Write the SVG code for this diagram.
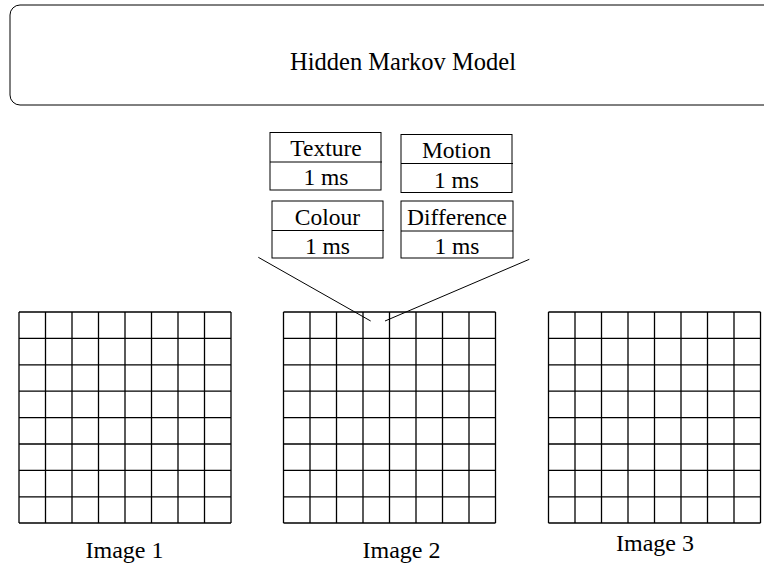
<svg xmlns="http://www.w3.org/2000/svg" width="764" height="564" viewBox="0 0 764 564">
<defs>
<style>
text{font-family:"Liberation Serif","Times New Roman",serif;fill:#000;text-anchor:middle}
.t{font-size:24.5px}
.s{font-size:23.5px}
.l{font-size:24px}
.box{fill:#fff;stroke:#000;stroke-width:1}
.conn line{stroke:#000;stroke-width:1}
</style>
<g id="gridpat" stroke="#000" stroke-width="1.3" fill="none">
<line x1="0" y1="0" x2="212" y2="0"/><line x1="0" y1="26.4" x2="212" y2="26.4"/><line x1="0" y1="52.8" x2="212" y2="52.8"/><line x1="0" y1="79.2" x2="212" y2="79.2"/><line x1="0" y1="105.6" x2="212" y2="105.6"/><line x1="0" y1="132" x2="212" y2="132"/><line x1="0" y1="158.4" x2="212" y2="158.4"/><line x1="0" y1="184.8" x2="212" y2="184.8"/><line x1="0" y1="211" x2="212" y2="211"/>
<line x1="0" y1="0" x2="0" y2="211"/><line x1="26.5" y1="0" x2="26.5" y2="211"/><line x1="53" y1="0" x2="53" y2="211"/><line x1="79.5" y1="0" x2="79.5" y2="211"/><line x1="106" y1="0" x2="106" y2="211"/><line x1="132.5" y1="0" x2="132.5" y2="211"/><line x1="159" y1="0" x2="159" y2="211"/><line x1="185.5" y1="0" x2="185.5" y2="211"/><line x1="212" y1="0" x2="212" y2="211"/>
</g>
</defs>
<rect width="764" height="564" fill="#fff"/>
<g id="hmm">
<rect class="box" x="10" y="5" width="800" height="100" rx="10" ry="10"/>
<text class="t" x="403" y="69.5">Hidden Markov Model</text>
</g>
<g id="texture">
<rect class="box" x="270" y="132.5" width="111" height="57.5"/>
<line x1="270" y1="162" x2="382" y2="162" stroke="#000"/>
<text class="s" x="326" y="156">Texture</text>
<text class="s" x="326" y="185">1 ms</text>
</g>
<g id="motion">
<rect class="box" x="401" y="134.5" width="111" height="58"/>
<line x1="401" y1="163.5" x2="513" y2="163.5" stroke="#000"/>
<text class="s" x="456.5" y="157.5">Motion</text>
<text class="s" x="456.5" y="187.5">1 ms</text>
</g>
<g id="colour">
<rect class="box" x="272" y="201" width="111" height="57"/>
<line x1="272" y1="230.5" x2="384" y2="230.5" stroke="#000"/>
<text class="s" x="327.5" y="224.5">Colour</text>
<text class="s" x="327.5" y="253.5">1 ms</text>
</g>
<g id="difference">
<rect class="box" x="401" y="201" width="112" height="57"/>
<line x1="401" y1="231" x2="513" y2="231" stroke="#000"/>
<text class="s" x="457" y="224.5">Difference</text>
<text class="s" x="457" y="253.5">1 ms</text>
</g>
<g id="image1">
<use href="#gridpat" x="19" y="312"/>
<text class="l" x="124.5" y="557.5">Image 1</text>
</g>
<g id="image2">
<use href="#gridpat" x="283.5" y="312"/>
<text class="l" x="401.5" y="557.5">Image 2</text>
</g>
<g id="image3">
<use href="#gridpat" x="548.5" y="312"/>
<text class="l" x="655" y="551">Image 3</text>
</g>
<g id="connectors" class="conn">
<line x1="258.3" y1="257.3" x2="370.7" y2="321"/>
<line x1="529.3" y1="259.3" x2="385" y2="321"/>
</g>
</svg>
